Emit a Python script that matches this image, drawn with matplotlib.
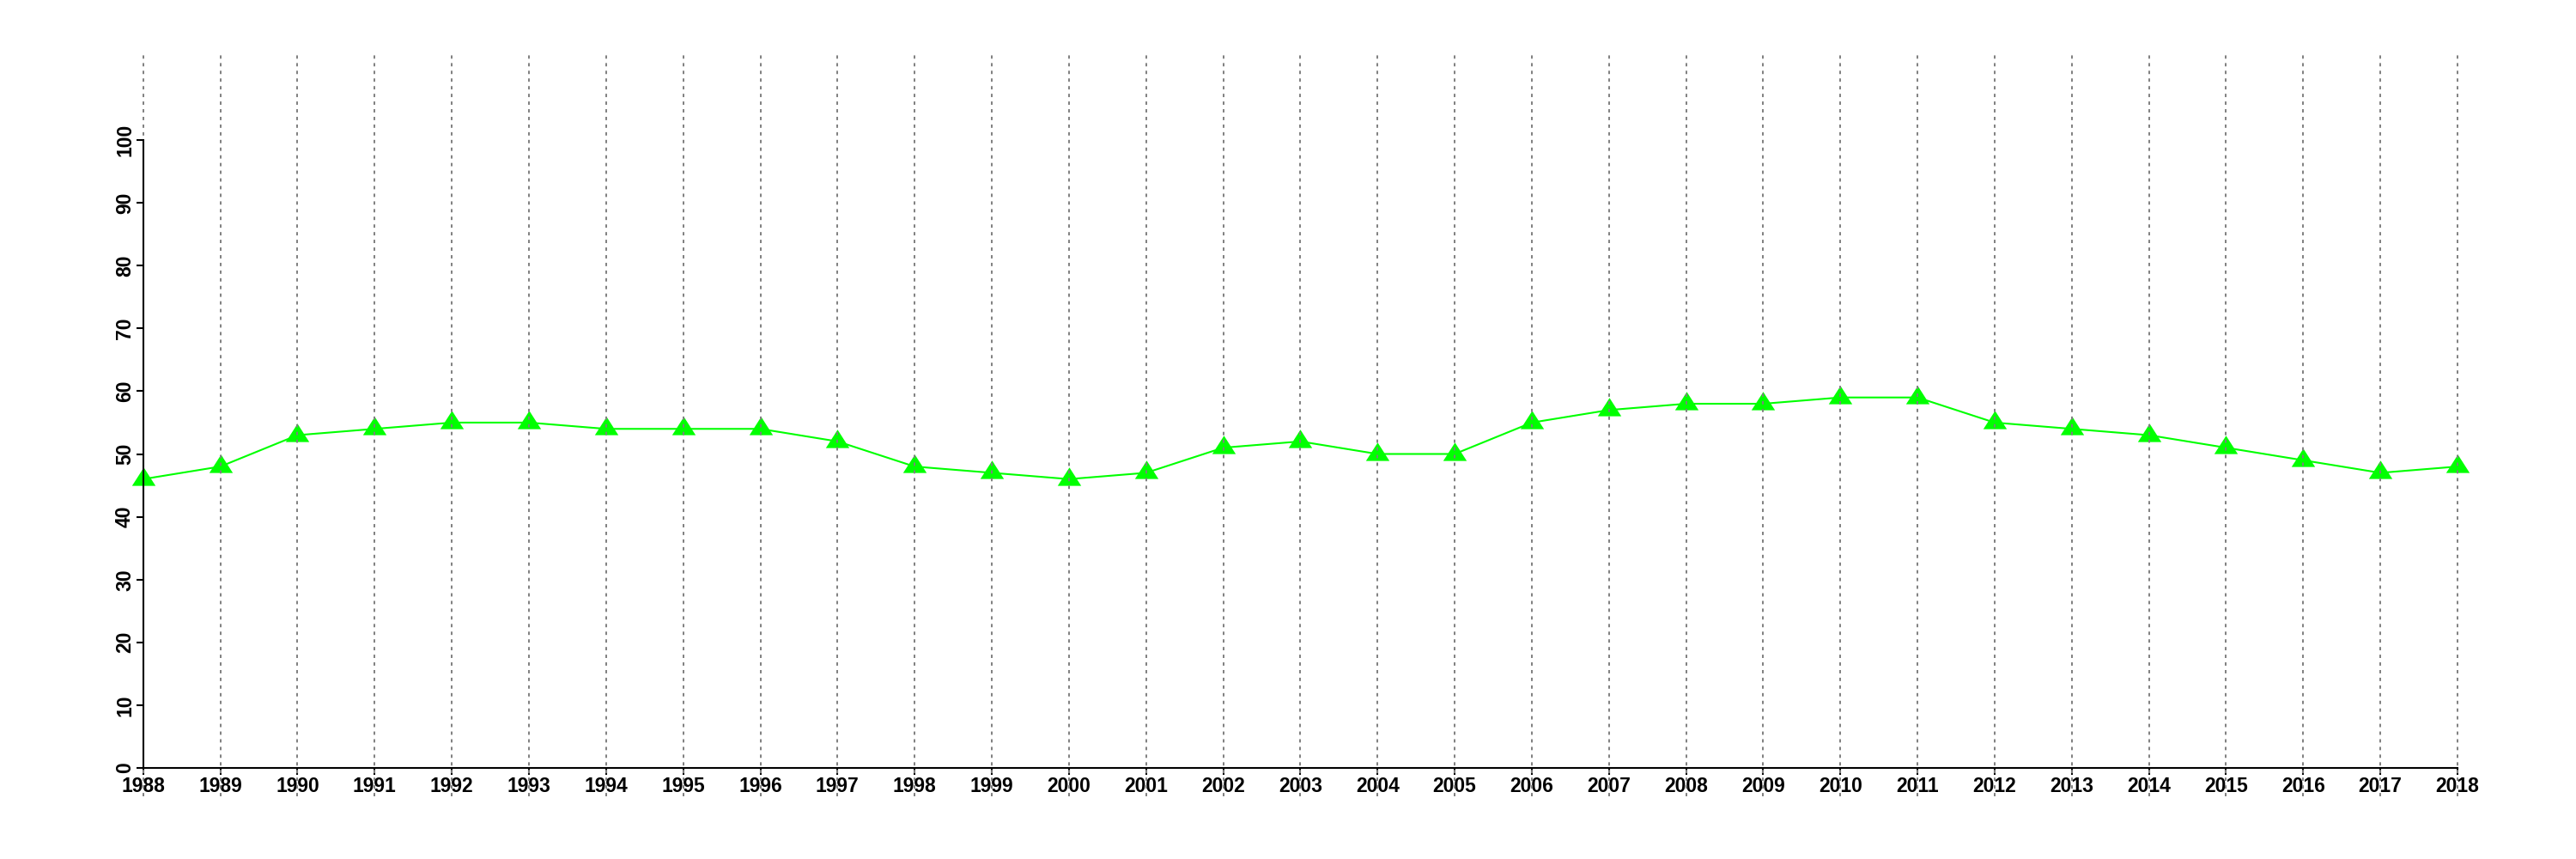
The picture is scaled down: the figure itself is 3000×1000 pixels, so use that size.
import matplotlib
matplotlib.use("Agg")
import matplotlib.pyplot as plt
import numpy as np

years = list(range(1988, 2019))
values = [46, 48, 53, 54, 55, 55, 54, 54, 54, 52, 48, 47, 46, 47, 51, 52,
          50, 50, 55, 57, 58, 58, 59, 59, 55, 54, 53, 51, 49, 47, 48]
y_ticks = list(range(0, 101, 10))

plt.rcParams['font.family'] = ['Liberation Sans', 'DejaVu Sans']

fig = plt.figure(figsize=(30, 10), dpi=100)
ax = fig.add_axes([0.0556, 0.106, 0.954 - 0.0556, 0.837 - 0.106])

# triangle marker centred on centroid
tri = [(-1, -0.52), (1, -0.52), (0, 1.04), (-1, -0.52)]
ax.plot(years, values, color='#00ff00', lw=1.5, marker=tri, ms=20.5,
        mec='#00ff00', mew=0, clip_on=False, zorder=3)

ax.vlines(years, -4.5, 114, colors='#7f7f7f', lw=1.4,
          linestyles=[(0, (2.0, 2.6))], clip_on=False, zorder=5)

ax.set_xlim(1988, 2018)
ax.set_ylim(0, 100)
ax.set_xticks(years)
ax.set_xticklabels([str(y) for y in years])
ax.set_yticks(y_ticks)
ax.set_yticklabels([str(v) for v in y_ticks], rotation=90, va='center')

for s in ['top', 'right']:
    ax.spines[s].set_visible(False)
for s in ['left', 'bottom']:
    ax.spines[s].set_linewidth(1.5)
    ax.spines[s].set_zorder(6)
ax.spines['left'].set_bounds(0, 100)

ax.tick_params(axis='both', length=5.5, width=1.5, labelsize=16.5, pad=1.5)
for lab in ax.get_xticklabels() + ax.get_yticklabels():
    lab.set_fontweight('bold')

fig.savefig('out.png', dpi=100)
